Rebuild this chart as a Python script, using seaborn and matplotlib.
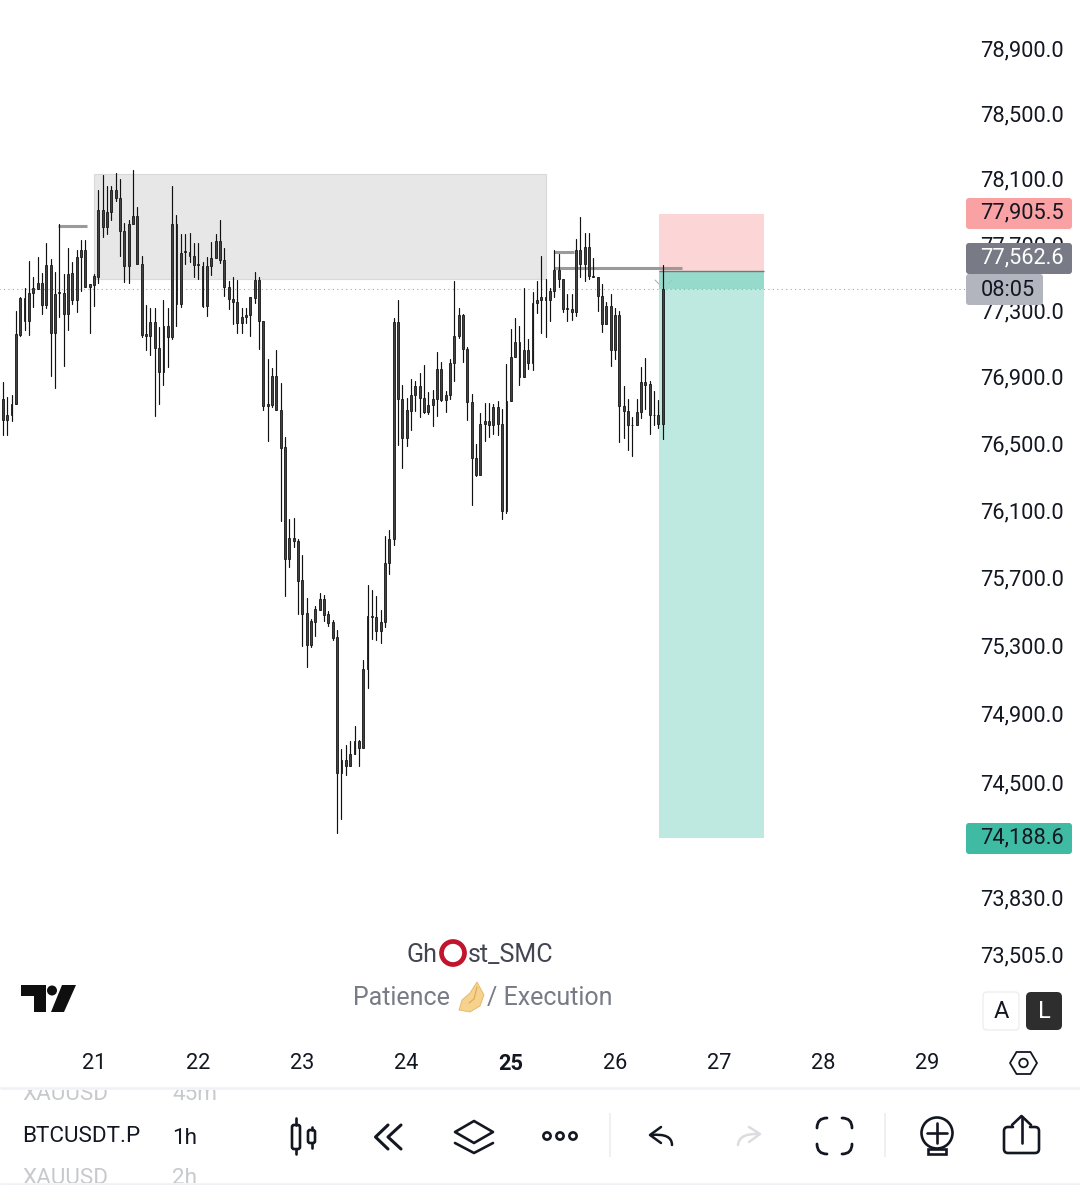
import numpy as np
import pandas as pd
import matplotlib.pyplot as plt
import seaborn as sns
from matplotlib.patches import Rectangle, Circle, Polygon, FancyBboxPatch, PathPatch
from matplotlib.path import Path
from matplotlib.ticker import NullLocator

# hourly BTCUSDT.P candles, hour 0 = day 21 00:00
first_hour = -22
highs = [
    76768, 76869, 76778, 76792, 77292, 77380, 77431, 77596, 77499, 77620, 77523, 77704, 77608, 77529,
    77823, 77517, 77674, 77592, 77662, 77723, 77723, 77457, 77517, 78031, 78121, 78055, 78055, 78131,
    78097, 77829, 77849, 78152, 77928, 77630, 77330, 77316, 77312, 77199, 77360, 77312, 78055, 77878,
    77763, 77759, 77765, 77708, 77708, 77594, 77624, 77715, 77759, 77849, 77674, 77479, 77499, 77485,
    77312, 77312, 77382, 77533, 77503, 77237, 77004, 76953, 77058, 76859, 76539,
    76051, 76055, 75932, 75834, 75579, 75457, 75533, 75610, 75598, 75504, 75453, 75392, 74696, 74714,
    74742, 74829, 74748, 75215, 75657, 75628, 75592, 75510, 75948, 75981,
    77252, 77360, 76849, 76770, 76883, 76873, 76921, 76969, 76807, 76819, 77045, 76985, 76813, 77005,
    77475, 77312, 77274, 77075, 76794, 76494, 76684, 76744, 76740, 76734, 76752, 76704, 76975, 77186,
    77252, 77206, 77436, 77125, 77412, 77477, 77625, 77487, 77436, 77667, 77641, 77491, 77396, 77400,
    77731, 77864, 77769, 77769, 77617, 77503, 77456, 77352, 77400, 77316, 77296, 76841, 76768, 76660,
    76764, 76955, 77011, 76873, 76813, 76758, 77575,
]
body_tops = [
    76768, 76768, 76671, 76738, 77155, 77372, 77372, 77406, 77431, 77467, 77467, 77572, 77572, 77400,
    77408, 77406, 77521, 77523, 77624, 77662, 77662, 77457, 77505, 77908, 77908, 77896, 78029, 78029,
    77980, 77781, 77823, 77872, 77872, 77582, 77155, 77231, 77231, 77074, 77207, 77207, 77823, 77823,
    77648, 77656, 77654, 77630, 77578, 77570, 77570, 77618, 77721, 77721, 77606, 77443, 77370, 77352,
    77261, 77273, 77378, 77485, 77485, 77237, 76736, 76905, 76905, 76699, 76480,
    75938, 75938, 75920, 75685, 75490, 75445, 75516, 75573, 75573, 75484, 75437, 75349, 74629, 74629,
    74664, 74740, 74740, 75162, 75472, 75472, 75467, 75439, 75787, 75932,
    77226, 77226, 76768, 76698, 76792, 76841, 76841, 76774, 76732, 76768, 76943, 76943, 76792, 76981,
    77142, 77268, 77268, 77063, 76750, 76413, 76618, 76636, 76636, 76720, 76720, 76618, 76756, 77015,
    77105, 77105, 77057, 77057, 77346, 77364, 77382, 77382, 77418, 77545, 77545, 77491, 77312, 77310,
    77665, 77665, 77683, 77683, 77509, 77503, 77386, 77328, 77328, 77268, 77268, 76726, 76696, 76612,
    76690, 76865, 76865, 76853, 76672, 76672, 77430,
]
body_bots = [
    76742, 76637, 76637, 76667, 76736, 77149, 77235, 77235, 77404, 77429, 77332, 77332, 77163, 77163,
    77402, 77278, 77278, 77362, 77362, 77622, 77441, 77441, 77453, 77501, 77803, 77803, 77896, 77978,
    77781, 77568, 77568, 77823, 77580, 77151, 77145, 77145, 77072, 76927, 76927, 77139, 77139, 77338,
    77338, 77650, 77628, 77574, 77572, 77326, 77326, 77568, 77616, 77604, 77441, 77368, 77350, 77223,
    77223, 77259, 77271, 77374, 77235, 76722, 76722, 76728, 76697, 76474, 75813,
    75813, 75918, 75683, 75488, 75305, 75305, 75441, 75512, 75482, 75435, 75347, 74553, 74553, 74597,
    74597, 74664, 74702, 74702, 75162, 75468, 75388, 75388, 75437, 75787,
    75932, 76768, 76534, 76534, 76696, 76792, 76774, 76688, 76688, 76730, 76768, 76760, 76760, 76792,
    76979, 77142, 77063, 76750, 76413, 76309, 76309, 76616, 76610, 76610, 76616, 76094, 76094, 76756,
    77015, 76895, 76895, 76979, 76979, 77344, 77362, 77362, 77362, 77418, 77491, 77310, 77308, 77290,
    77290, 77579, 77579, 77507, 77501, 77386, 77218, 77218, 77061, 77061, 76724, 76694, 76610, 76608,
    76610, 76688, 76851, 76670, 76668, 76616, 76616,
]
lows = [
    76742, 76550, 76550, 76631, 76736, 77145, 77181, 77151, 77318, 77429, 77275, 77314, 76903, 76834,
    77259, 76963, 77179, 77336, 77288, 77416, 77441, 77163, 77326, 77467, 77743, 77761, 77845, 77960,
    77628, 77471, 77467, 77823, 77580, 77139, 77058, 77030, 76665, 76734, 76849, 76959, 77126, 77205,
    77318, 77578, 77590, 77499, 77487, 77318, 77265, 77511, 77616, 77584, 77384, 77308, 77215, 77163,
    77163, 77223, 77145, 77342, 77064, 76697, 76516, 76720, 76697, 76036, 75594,
    75765, 75880, 75488, 75295, 75173, 75290, 75358, 75512, 75447, 75417, 75330, 74206, 74287, 74539,
    74597, 74664, 74597, 74702, 75048, 75341, 75335, 75312, 75411, 75724,
    75894, 76488, 76351, 76484, 76580, 76696, 76658, 76680, 76674, 76604, 76664, 76752, 76688, 76768,
    76875, 77134, 76989, 76642, 76129, 76303, 76309, 76514, 76538, 76556, 76550, 76046, 76082, 76756,
    77015, 76851, 76895, 76945, 76941, 77280, 77162, 77140, 77236, 77382, 77438, 77290, 77236, 77242,
    77266, 77501, 77477, 77487, 77501, 77296, 77170, 77218, 76965, 77005, 76508, 76532, 76459, 76423,
    76610, 76654, 76704, 76558, 76608, 76592, 76528,
]

# price axis
price_ticks = [78900, 78500, 78100, 77700, 77300, 76900, 76500, 76100, 75700, 75300, 74900, 74500, 73830, 73505]
day_labels = ['21', '22', '23', '24', '25', '26', '27', '28', '29']
day_hours = [0, 24, 48, 72, 96, 120, 144, 168, 192]

# drawings on the chart, as (hour, price)
supply_zone = (0, 104.2, 77488, 78127)
level_lines = [(-8.3, -1.6, 77813), (105.9, 110.5, 77650), (105.9, 135.4, 77553)]
pos_hours = (130.1, 154.3)
stop_price = 77885
entry_price = 77537
target_price = 74175
last_line_price = 77425

INK = '#131722'

sns.set_theme(style='white')
plt.rcParams['font.family'] = ['Roboto', 'DejaVu Sans']

fig = plt.figure(figsize=(10.8, 11.85), dpi=100, facecolor='white')
ax = fig.add_axes([0, 97 / 1185, 1, 1088 / 1185])
ax.set_yscale('log')
ax.set_xlim(-21.65, 227.1)
ax.set_ylim(72740, 79197)
ax.set_facecolor('white')

# zone + short position
ax.add_patch(Rectangle((supply_zone[0], supply_zone[2]), supply_zone[1] - supply_zone[0],
                       supply_zone[3] - supply_zone[2], fc='#e7e7e7', ec='#d9d9d9', lw=0.8, zorder=1))
pos_w = pos_hours[1] - pos_hours[0]
ax.add_patch(Rectangle((pos_hours[0], entry_price), pos_w, stop_price - entry_price, fc='#fcd5d6', ec='none', zorder=1))
ax.add_patch(Rectangle((pos_hours[0], target_price), pos_w, entry_price - target_price, fc='#bde9e0', ec='none', zorder=1))
ax.add_patch(Rectangle((pos_hours[0], last_line_price), pos_w, entry_price - last_line_price, fc='#96dacb', ec='none', zorder=1.1))
ax.hlines(entry_price, pos_hours[0], pos_hours[1], color='#6f7a78', lw=1.0, zorder=1.2)
ax.hlines(last_line_price, -22, 200.8, color='#a3a6ad', lw=0.8, linestyles=(0, (1, 3)), zorder=1.3)

for x0, x1, p in level_lines:
    ax.hlines(p, x0, x1, color='#9a9a9a', lw=2.2, zorder=1.5)

hours = np.arange(first_hour, first_hour + len(highs))
wicks = pd.DataFrame({
    'hour': np.repeat(hours, 2),
    'price': np.column_stack([lows, highs]).ravel(),
})
sns.lineplot(data=wicks, x='hour', y='price', units='hour', estimator=None, sort=False,
             color='#111111', linewidth=0.85, legend=False, ax=ax, zorder=3)
ax.bar(hours, np.array(body_tops) - np.array(body_bots), bottom=body_bots, width=0.44,
       facecolor='#424242', edgecolor='#161616', linewidth=0.6, zorder=4)

ax.set_xlabel('')
ax.set_ylabel('')
ax.yaxis.tick_right()
ax.yaxis.set_minor_locator(NullLocator())
ax.set_yticks(price_ticks, [f'{p:,.1f}' for p in price_ticks])
ax.set_xticks(day_hours, day_labels)
ax.tick_params(axis='y', length=0, pad=-11.6, labelsize=15.7, labelcolor=INK)
ax.tick_params(axis='x', length=0, pad=-17.3, labelsize=15.7, labelcolor=INK)
for lab in ax.get_yticklabels():
    lab.set_ha('right')
for lab in ax.get_xticklabels():
    lab.set_va('center')
ax.get_xticklabels()[4].set_fontweight('bold')
sns.despine(ax=ax, left=True, right=True, top=True, bottom=True)

# everything below is app furniture, in screen pixels
ui = fig.add_axes([0, 0, 1, 1], facecolor='none')
ui.set_xlim(0, 1080)
ui.set_ylim(1185, 0)
ui.axis('off')


def tag(x0, x1, y0, y1, color, text, text_color, dy=-1):
    ui.add_patch(FancyBboxPatch((x0 + 3, y0 + 3), x1 - x0 - 6, y1 - y0 - 6, boxstyle='round,pad=3,rounding_size=3',
                                fc=color, ec='none', zorder=5))
    ui.text(980.5, (y0 + y1) / 2 + dy, text, color=text_color, fontsize=15.7, ha='left', va='center', zorder=6)


def stroke(pts, color=INK, lw=1.9, closed=False):
    ui.add_patch(Polygon(pts, closed=closed, fill=False, ec=color, lw=lw, joinstyle='round', capstyle='round'))


def curve(verts, codes, color=INK, lw=1.9):
    ui.add_patch(PathPatch(Path(verts, codes), fill=False, ec=color, lw=lw, capstyle='round', joinstyle='round'))


tag(966, 1072, 198, 229, '#faa1a4', '77,905.5', INK)
tag(966, 1072, 243, 274, '#787b86', '77,562.6', 'white')
tag(966, 1043, 274, 305, '#b2b5be', '08:05', INK, dy=1.5)
tag(966, 1072, 823, 854, '#3fbba4', '74,188.6', INK)

# little arrows at the position corner
stroke([(655, 280), (659, 284)], color='#a8a8a8', lw=0.7)
stroke([(672, 280), (668, 284)], color='#a0c8c0', lw=0.7)

# watermark
ui.text(407, 955, 'Gh', color='#434651', fontsize=18, ha='left', va='center')
ui.add_patch(Circle((453, 953), 11.5, fill=False, ec='#c1152d', lw=3.4))
ui.text(467.5, 955, 'st_SMC', color='#434651', fontsize=18, ha='left', va='center')
ui.text(353, 998, 'Patience', color='#787b86', fontsize=18, ha='left', va='center')
ui.text(487, 998, '/ Execution', color='#787b86', fontsize=18, ha='left', va='center')
ui.add_patch(Polygon([(477, 982), (484, 995), (480, 1006), (470, 1012), (459, 1010), (462, 1000), (470, 993)],
                     fc='#f6d28c', ec='#e2b566', lw=0.6, joinstyle='round'))
stroke([(477, 987), (474, 999), (469, 1003)], color='#d9a95c', lw=0.8)

# tradingview logo
ui.add_patch(Polygon([(21, 985), (46, 985), (46, 1012), (34, 1012), (34, 996), (21, 996)], fc='#0f0f0f', ec='none'))
ui.add_patch(Circle((52, 990.5), 5, fc='#0f0f0f', ec='none'))
ui.add_patch(Polygon([(62, 985), (76, 985), (64, 1012), (51, 1012)], fc='#0f0f0f', ec='none'))

# A / L buttons
ui.add_patch(FancyBboxPatch((987, 996), 28, 30, boxstyle='round,pad=4,rounding_size=4', fc='white', ec='#eeeeee', lw=1))
ui.text(1001, 1011, 'A', color=INK, fontsize=17, ha='center', va='center')
ui.add_patch(FancyBboxPatch((1030, 996), 28, 30, boxstyle='round,pad=4,rounding_size=5', fc='#2e2e2e', ec='none'))
ui.text(1044, 1011, 'L', color='white', fontsize=17, ha='center', va='center')

# settings hexagon
stroke([(1010, 1063), (1016.5, 1052), (1030.5, 1052), (1037, 1063), (1030.5, 1074), (1016.5, 1074)], lw=1.3, closed=True)
ui.add_patch(Circle((1023.5, 1063), 4.3, fill=False, ec=INK, lw=1.3))

# separators
ui.hlines(1088, 0, 1080, color='#eff1f5', lw=1.8)
ui.hlines(1183.5, 0, 1080, color='#eff1f5', lw=1.8)
ui.vlines([610, 885], 1113, 1157, color='#eeeeee', lw=1.2)

# symbol / interval picker, rows above and below are cut off
picker_clip = Rectangle((0, 1089.5), 280, 93, transform=ui.transData)
for txt, x, y, col in [('XAUUSD', 22, 1095, '#c8c9cc'), ('45m', 172, 1095, '#c8c9cc'),
                       ('BTCUSDT.P', 22, 1137, INK), ('1h', 172, 1138, INK),
                       ('XAUUSD', 22, 1179, '#c8c9cc'), ('2h', 172, 1179, '#c8c9cc')]:
    t = ui.text(x, y, txt, color=col, fontsize=16.2, ha='left', va='center')
    t.set_clip_path(picker_clip)
    t.set_clip_on(True)

# candle icon
ui.add_patch(FancyBboxPatch((293, 1126), 6, 22, boxstyle='round,pad=1,rounding_size=2', fill=False, ec=INK, lw=1.9))
ui.add_patch(FancyBboxPatch((309, 1131), 5, 11, boxstyle='round,pad=1,rounding_size=2', fill=False, ec=INK, lw=1.9))
stroke([(296, 1118), (296, 1125)])
stroke([(296, 1149), (296, 1154)])
stroke([(311.5, 1127), (311.5, 1130)])
stroke([(311.5, 1143), (311.5, 1148)])

# rewind icon
stroke([(388, 1125), (375.5, 1137), (388, 1149)], lw=2.2)
stroke([(401, 1125), (388, 1137), (401, 1149), (401, 1125)], lw=2.2)

# layers icon
stroke([(474, 1121), (493, 1132), (474, 1143), (455, 1132)], closed=True)
stroke([(455, 1143), (474, 1153), (493, 1143)])

# dots
for cx in [547, 560, 573]:
    ui.add_patch(Circle((cx, 1136), 3.6, fill=False, ec=INK, lw=1.9))

# undo / redo
stroke([(661, 1127), (650, 1135), (661, 1143)], lw=1.8)
curve([(651, 1135), (672, 1133), (672, 1145)], [Path.MOVETO, Path.CURVE3, Path.CURVE3], lw=1.8)
stroke([(749, 1127), (760, 1134), (749, 1142)], color='#dcdde0', lw=1.8)
curve([(759, 1134), (739, 1133), (738, 1145)], [Path.MOVETO, Path.CURVE3, Path.CURVE3], color='#dcdde0', lw=1.8)

# fullscreen corners
for sx, sy, cx, cy in [(1, 1, 817, 1118), (-1, 1, 852, 1118), (1, -1, 817, 1154), (-1, -1, 852, 1154)]:
    curve([(cx, cy + sy * 10), (cx, cy), (cx + sx * 10, cy)], [Path.MOVETO, Path.CURVE3, Path.CURVE3], lw=2)

# bulb with plus
ui.add_patch(Circle((937, 1133), 15.5, fill=False, ec=INK, lw=1.9))
stroke([(927, 1133), (947, 1133)])
stroke([(937, 1123), (937, 1143)])
ui.add_patch(Rectangle((928, 1149), 18, 5, fill=False, ec=INK, lw=1.9))

# share
stroke([(1021.5, 1117), (1021.5, 1143)])
stroke([(1012, 1125), (1021.5, 1116), (1031, 1125)])
curve([(1013, 1127), (1008, 1127), (1004, 1127), (1004, 1131), (1004, 1149), (1004, 1153), (1008, 1153),
       (1035, 1153), (1039, 1153), (1039, 1149), (1039, 1131), (1039, 1127), (1035, 1127), (1030, 1127)],
      [Path.MOVETO, Path.LINETO, Path.CURVE3, Path.CURVE3, Path.LINETO, Path.CURVE3, Path.CURVE3,
       Path.LINETO, Path.CURVE3, Path.CURVE3, Path.LINETO, Path.CURVE3, Path.CURVE3, Path.LINETO])

fig.savefig('out.png', dpi=100)
